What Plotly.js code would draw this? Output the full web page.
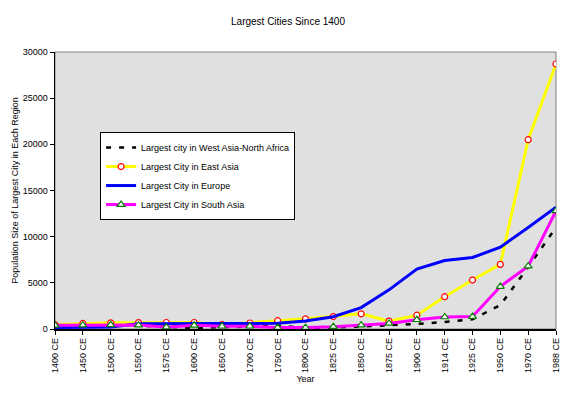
<!DOCTYPE html>
<html>
<head>
<meta charset="utf-8">
<script src="https://cdn.plot.ly/plotly-3.0.1.min.js"></script>
<style>html,body{margin:0;padding:0;background:#fff;}#chart{width:576px;height:394px;}</style>
</head>
<body>
<div id="chart"></div>
<script>
var categories = ["1400 CE","1450 CE","1500 CE","1550 CE","1575 CE","1600 CE","1650 CE","1700 CE","1750 CE","1800 CE","1825 CE","1850 CE","1875 CE","1900 CE","1914 CE","1925 CE","1950 CE","1970 CE","1988 CE"];
var westAsia  = [300, 300, 350, 350, 250, 100, 200, 250, 400, 100, 150, 250, 400, 550, 750, 1050, 2600, 6700, 11000];
var eastAsia  = [487, 600, 672, 690, 706, 706, 470, 650, 900, 1100, 1350, 1648, 850, 1497, 3500, 5300, 7000, 20500, 28700];
var europe    = [150, 150, 225, 560, 600, 600, 600, 600, 620, 860, 1335, 2320, 4241, 6480, 7419, 7742, 8860, 11000, 13200];
var southAsia = [400, 420, 450, 420, 200, 400, 300, 300, 150, 150, 250, 420, 600, 1000, 1300, 1350, 4600, 6800, 12800];
var seriesNames = ["Largest city in West Asia-North Africa","Largest City in East Asia","Largest City in Europe","Largest City in South Asia"];

var font = "Arial, 'Liberation Sans', sans-serif";
var traces = [
  {x: categories, y: westAsia, name: seriesNames[0], type: 'scatter', mode: 'lines',
   line: {color: '#000000', width: 2.5, dash: '5px,8px'}},
  {x: categories, y: eastAsia, name: seriesNames[1], type: 'scatter', mode: 'lines+markers',
   line: {color: '#ffff00', width: 3},
   marker: {symbol: 'circle', size: 6, color: '#ffffff', line: {color: '#ff0000', width: 1.2}}},
  {x: categories, y: europe, name: seriesNames[2], type: 'scatter', mode: 'lines',
   line: {color: '#0000ff', width: 3}},
  {x: categories, y: southAsia, name: seriesNames[3], type: 'scatter', mode: 'lines+markers',
   line: {color: '#ff00ff', width: 3},
   marker: {symbol: 'triangle-up', size: 7, color: '#ffffff', line: {color: '#008000', width: 1.2}}}
];

var layout = {
  width: 576, height: 394,
  margin: {l: 55, r: 20, t: 52, b: 65},
  paper_bgcolor: '#ffffff',
  plot_bgcolor: '#e0e0e0',
  font: {family: font, size: 9, color: '#000'},
  title: {text: 'Largest Cities Since 1400', x: 0.5, xref: 'container', y: 1 - 21/394, yref: 'container', yanchor: 'middle', font: {family: font, size: 10, color: '#000'}},
  showlegend: true,
  legend: {x: 0.09, y: 0.711, xanchor: 'left', yanchor: 'top', bgcolor: '#ffffff', bordercolor: '#000000', borderwidth: 1,
           font: {family: font, size: 9, color: '#000'}, tracegroupgap: 0},
  xaxis: {type: 'category', range: [0, 18], showgrid: false, zeroline: false,
          showline: true, linecolor: '#000', linewidth: 1.5,
          ticks: 'outside', ticklen: 4, tickcolor: '#000', tickangle: -90,
          tickfont: {family: font, size: 9, color: '#000'},
          title: {text: 'Year', font: {family: font, size: 9, color: '#000'}, standoff: 3}},
  yaxis: {range: [0, 30000], dtick: 5000, tickformat: 'd', showgrid: false, zeroline: false,
          showline: true, linecolor: '#000', linewidth: 1.5,
          ticks: 'outside', ticklen: 4, tickcolor: '#000',
          tickfont: {family: font, size: 9, color: '#000'},
          title: {text: 'Population Size of Largest City in Each Region', font: {family: font, size: 9, color: '#000'}, standoff: 2}},
  shapes: [{type: 'rect', xref: 'paper', yref: 'paper', x0: 0, x1: 1, y0: 0, y1: 1, line: {color: '#808080', width: 1}, layer: 'below'}]
};

Plotly.newPlot('chart', traces, layout, {displayModeBar: false, staticPlot: true});
</script>
</body>
</html>
